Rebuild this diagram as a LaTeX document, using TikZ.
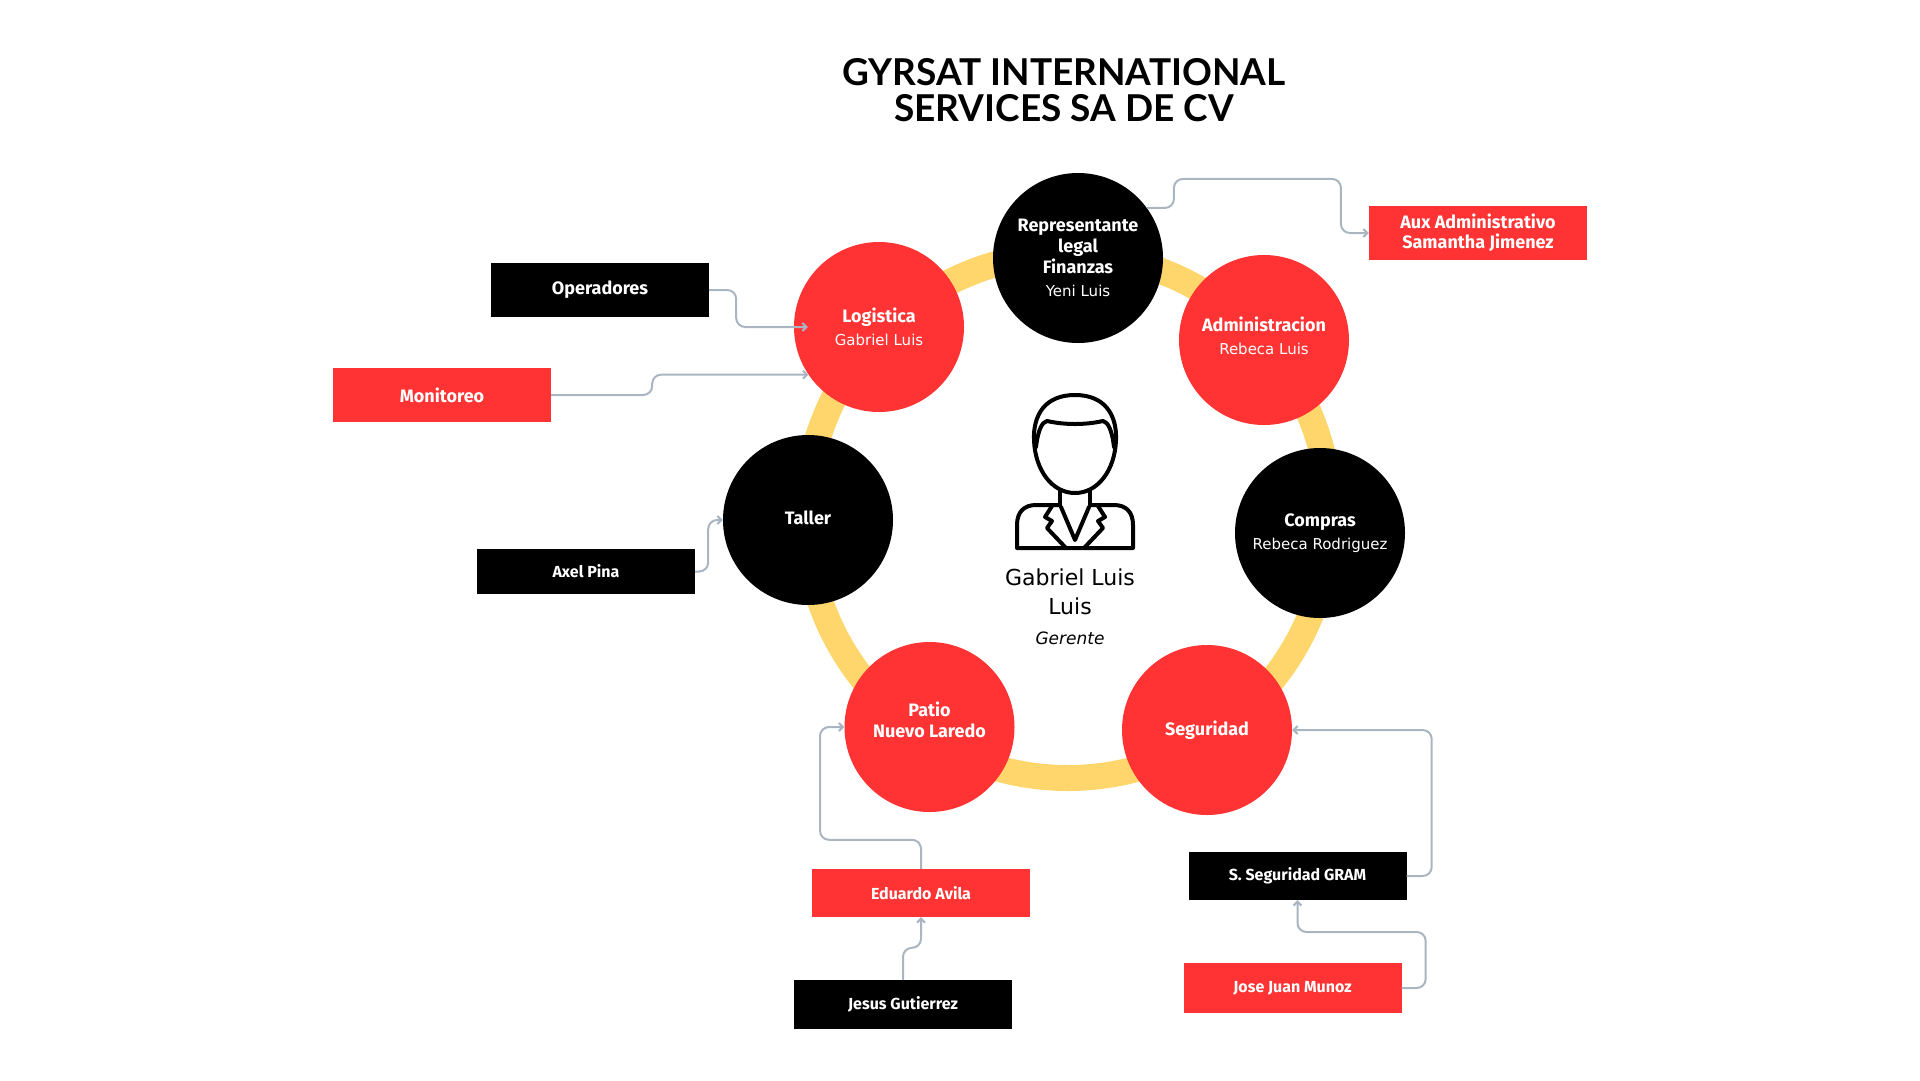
\documentclass[tikz,border=0pt]{standalone}
\usepackage{fontspec}
\setmainfont{Fira Sans}
\newfontfamily\titlefont{Lato}
\newfontfamily\namefont{DejaVu Sans}
\usetikzlibrary{arrows.meta}
\definecolor{gyred}{HTML}{FF3333}
\definecolor{gyring}{HTML}{FFD66B}
\definecolor{gylink}{HTML}{A9B6C2}
\newcommand{\subname}[1]{\\[2pt]{\namefont\fontsize{15}{18}\selectfont\mdseries #1}}

\begin{document}
\begin{tikzpicture}[x=1pt, y=-1pt,
  area/.style={circle, minimum size=170pt, inner sep=0pt, text=white, align=center,
    font=\fontsize{18}{21}\selectfont\bfseries},
  box/.style={minimum width=218pt, inner sep=0pt, text=white, align=center,
    font=\fontsize{18}{20}\selectfont\bfseries},
  small/.style={font=\fontsize{16}{18}\selectfont\bfseries},
  link/.style={gylink, line width=2pt, rounded corners=9pt, -{Straight Barb[length=4pt,width=8pt]}}]
  \useasboundingbox (0,0) rectangle (1920,1080);

  \node[font=\titlefont\fontsize{37}{36}\selectfont\bfseries, align=center] (title) at (1064,90) {GYRSAT INTERNATIONAL\\SERVICES SA DE CV};

  % the ring behind the areas
  \draw[gyring, line width=26pt] (1068,516) circle[radius=262];

  \node[area, fill=black] (rep) at (1078,258) {Representante\\legal\\Finanzas\subname{Yeni Luis}};
  \node[area, fill=gyred] (log) at (879,327) {Logistica\subname{Gabriel Luis}};
  \node[area, fill=gyred] (adm) at (1264,340) {Administracion\subname{Rebeca Luis}\\[-12pt]~};
  \node[area, fill=black] (com) at (1320,533) {Compras\subname{Rebeca Rodriguez}};
  \node[area, fill=gyred] (seg) at (1207,730) {Seguridad};
  \node[area, fill=gyred] (pat) at (929.5,727) {Patio\\Nuevo Laredo\\[-7pt]~};
  \node[area, fill=black] (tal) at (808,520) {Taller\\[-16pt]~};

  \node[box, fill=black, minimum height=54pt] (ope) at (600,290) {Operadores};
  \node[box, fill=gyred, minimum height=54pt] (mon) at (442,395) {Monitoreo};
  \node[box, small, fill=black, minimum height=45pt] (axe) at (586,571.5) {Axel Pina};
  \node[box, fill=gyred, minimum height=54pt] (aux) at (1478,233) {Aux Administrativo\\Samantha Jimenez};
  \node[box, small, fill=black, minimum height=48pt] (ssg) at (1297.5,876) {S. Seguridad GRAM};
  \node[box, small, fill=gyred, minimum height=50pt] (jos) at (1292.5,988) {Jose Juan Munoz};
  \node[box, small, fill=gyred, minimum height=48pt] (edu) at (921,893) {Eduardo Avila};
  \node[box, small, fill=black, minimum height=49pt] (jes) at (903,1004.5) {Jesus Gutierrez};

  \draw[link] (ope.east) -- ++(27,0) |- ([xshift=14pt]log.west);
  \draw[link] (mon.east) -- ++(101,0) |- (log.214);
  \draw[link] (axe.east) -- ++(13,0) |- (tal.west);
  \draw[link] (rep.36) -- ++(27,0) -- ++(0,-29) -- ++(167,0) |- (aux.west);
  \draw[link] (ssg.east) -- ++(25,0) |- (seg.east);
  \draw[link] (jos.east) -- ++(24,0) -- ++(0,-56) -| (ssg.south);
  \draw[link] (edu.north) -- ++(0,-29) -- ++(-101,0) |- (pat.west);
  \draw[link] (jes.north) -- ++(0,-32) -| (edu.south);

  % manager in the middle
  \begin{scope}[line width=4pt, line join=round, line cap=round]
    \draw (1075,395) .. controls (1105,395) and (1117,415) .. (1116,440)
      .. controls (1115,470) and (1098,493) .. (1075,493)
      .. controls (1052,493) and (1035,470) .. (1034,440)
      .. controls (1033,415) and (1045,395) .. (1075,395) -- cycle;
    \draw (1036,447) .. controls (1038,430) and (1042,422) .. (1047,421)
      .. controls (1065,425) and (1085,425) .. (1103,421)
      .. controls (1108,422) and (1112,430) .. (1114,447);
    \draw (1060,490) -- (1060,505);
    \draw (1090,490) -- (1090,505);
    \draw (1060,505) -- (1036,505) .. controls (1024,505) and (1017,512) .. (1017,525)
      -- (1017,548) -- (1133,548) -- (1133,525)
      .. controls (1133,512) and (1126,505) .. (1114,505) -- (1090,505);
    \draw (1052,506) -- (1045,517) -- (1052,521) -- (1047,528) -- (1066,548);
    \draw (1098,506) -- (1105,517) -- (1098,521) -- (1103,528) -- (1084,548);
    \draw (1061,507) -- (1075,540) -- (1089,507);
  \end{scope}
  \node[font=\namefont\fontsize{22}{29}\selectfont, align=center] (mgr) at (1070,592) {Gabriel Luis\\Luis};
  \node[font=\namefont\fontsize{17}{20}\selectfont\itshape] (role) at (1070,638) {Gerente};
\end{tikzpicture}
\end{document}
